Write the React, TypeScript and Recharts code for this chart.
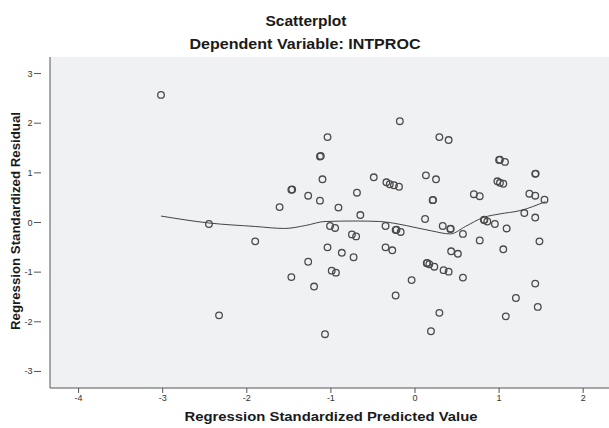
import React from 'react';
import { ComposedChart, Scatter, XAxis, YAxis, CartesianGrid } from 'recharts';

const predicted: number[] = [
  -3.02, -1.61, -0.18, -1.04, -1.13, -1.12, -1.10, -1.47, -1.46, -1.27, -1.13, -0.91, -0.69, -0.49,
  -0.34, -0.30, -0.25, -0.19, -0.65, 0.29, 0.40, 1.00, 1.01, 1.07, 0.13, 0.25, 1.43, 1.435,
  0.98, 1.01, 1.05, 0.21, 0.215, 0.70, 0.77, 1.36, 1.43, 1.54, 1.30,
  -2.45, -1.90, -2.33, -1.01, -0.95, -0.75, -0.70, -0.35, -0.23, -0.22, -0.17, -1.04, -0.87,
  -0.73, -0.35, -0.27, -1.27, -0.99, -0.94, -1.47, -1.20, -0.04, -0.23, -1.07, 0.12, 0.33,
  0.42, 0.425, 0.57, 0.77, 0.82, 0.825, 0.86, 0.95, 1.09, 1.05, 1.43, 1.48, 0.43, 0.51, 0.14,
  0.145, 0.17, 0.23, 0.34, 0.40, 0.57, 1.43, 1.20, 1.46, 0.29, 1.08, 0.19,
];

const residual: number[] = [
  2.57, 0.31, 2.04, 1.72, 1.33, 1.34, 0.87, 0.66, 0.665, 0.54, 0.44, 0.30, 0.60, 0.91,
  0.81, 0.77, 0.75, 0.72, 0.15, 1.72, 1.66, 1.26, 1.265, 1.22, 0.95, 0.87, 0.98, 0.985,
  0.83, 0.80, 0.78, 0.45, 0.455, 0.57, 0.53, 0.58, 0.54, 0.46, 0.19,
  -0.03, -0.38, -1.87, -0.07, -0.11, -0.24, -0.28, -0.07, -0.15, -0.145, -0.19, -0.50, -0.61,
  -0.70, -0.50, -0.56, -0.79, -0.97, -1.01, -1.10, -1.29, -1.16, -1.47, -2.25, 0.07, -0.07,
  -0.13, -0.125, -0.23, -0.36, 0.05, 0.055, 0.02, -0.03, -0.12, -0.54, 0.10, -0.38, -0.58, -0.63, -0.82,
  -0.815, -0.84, -0.89, -0.96, -0.99, -1.11, -1.23, -1.52, -1.70, -1.82, -1.89, -2.19,
];

const fitX: number[] = [-3.02, -2.45, -1.9, -1.55, -1.3, -1.07, -0.7, -0.42, -0.2, 0, 0.2, 0.42, 0.6, 0.81, 1.0, 1.25, 1.55];
const fitY: number[] = [0.13, -0.01, -0.08, -0.12, -0.06, 0.02, 0.03, 0.02, -0.03, -0.1, -0.17, -0.23, -0.08, 0.1, 0.17, 0.24, 0.42];

const xTicks: number[] = [-4, -3, -2, -1, 0, 1, 2];
const yTicks: number[] = [-3, -2, -1, 0, 1, 2, 3];

const points = predicted.map((x, i) => ({ x, y: residual[i] }));
const fit = fitX.map((x, i) => ({ x, y: fitY[i] }));

const FONT = '"Liberation Sans", Arial, sans-serif';

const Ring = (props: any) => (
  <circle cx={props.cx} cy={props.cy} r={3.3} fill="none" stroke="#4a4a4a" strokeWidth={1.3} />
);

const tickStyle = { fontSize: 9, fill: '#333', fontFamily: FONT };

const YTick = (props: any) => {
  const { y, payload } = props;
  return (
    <g>
      <line x1={34} x2={41} y1={y} y2={y} stroke="#555" strokeWidth={1} />
      <text x={32.5} y={y} textAnchor="end" dominantBaseline="central" fontSize={9} fill="#333" fontFamily={FONT}>
        {payload.value}
      </text>
    </g>
  );
};

export default function App() {
  return (
    <div style={{ position: 'absolute', left: 0, top: 0, width: 609, height: 428, background: '#fff', fontFamily: FONT }}>
      <ComposedChart
        width={609}
        height={428}
        margin={{ top: 57, right: 0, bottom: 0, left: 0 }}
      >
        <CartesianGrid horizontal={false} vertical={false} fill="#f0f1f3" />
        <XAxis
          xAxisId="b"
          dataKey="x"
          type="number"
          domain={[-4.34, 2.307]}
          ticks={xTicks}
          allowDataOverflow
          height={40}
          tickSize={5}
          tick={tickStyle}
          stroke="#555"
          tickLine={{ stroke: '#555' }}
        />
        <XAxis xAxisId="t" orientation="top" type="number" domain={[-4.34, 2.307]} height={0} tick={false} tickLine={false} stroke="#555" />
        <YAxis
          dataKey="y"
          type="number"
          domain={[-3.333, 3.333]}
          ticks={yTicks}
          allowDataOverflow
          width={50}
          tickSize={0}
          tickLine={false}
          tick={<YTick />}
          stroke="#555"
        />
        <Scatter
          xAxisId="b"
          data={fit}
          line={{ stroke: '#444', strokeWidth: 1 }}
          lineJointType="monotoneX"
          shape={() => <g />}
          isAnimationActive={false}
        />
        <Scatter xAxisId="b" data={points} shape={Ring} isAnimationActive={false} />
      </ComposedChart>
      <svg width={609} height={428} style={{ position: 'absolute', left: 0, top: 0, pointerEvents: 'none' }}>
        <g fontFamily={FONT} fontWeight="bold" fill="#1a1a1a">
          <text x={306} y={21} fontSize={14} textAnchor="middle" dominantBaseline="central" textLength={81} lengthAdjust="spacingAndGlyphs">Scatterplot</text>
          <text x={305} y={44} fontSize={14} textAnchor="middle" dominantBaseline="central" textLength={231} lengthAdjust="spacingAndGlyphs">Dependent Variable: INTPROC</text>
          <text x={331} y={416} fontSize={13.5} textAnchor="middle" dominantBaseline="central" textLength={293} lengthAdjust="spacingAndGlyphs">Regression Standardized Predicted Value</text>
          <text x={15} y={221} fontSize={13.5} textAnchor="middle" dominantBaseline="central" transform="rotate(-90 15 221)" textLength={218} lengthAdjust="spacingAndGlyphs">Regression Standardized Residual</text>
        </g>
      </svg>
    </div>
  );
}
